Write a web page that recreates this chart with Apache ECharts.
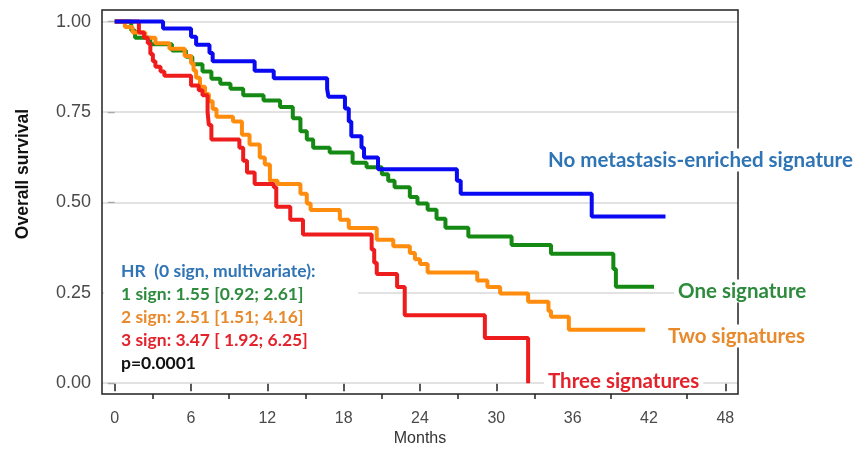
<!doctype html>
<html>
<head>
<meta charset="utf-8">
<title>Overall survival</title>
<script src="https://cdn.jsdelivr.net/npm/echarts@6/dist/echarts.min.js"></script>
<style>
  html, body { margin: 0; padding: 0; background: #fff; }
  #main { width: 861px; height: 452px; }
</style>
</head>
<body>
<div id="main"></div>
<script type="text/javascript">
// Kaplan-Meier curves: [month, survival]
var noSignature = [[0,1],[3.8,0.981],[6.0,0.958],[6.4,0.936],[7.45,0.913],[7.7,0.890],[11.0,0.864],[12.5,0.843],
  [16.7,0.814],[16.8,0.792],[18.1,0.760],[18.4,0.724],[18.6,0.683],[19.4,0.651],[19.6,0.624],[20.7,0.592],
  [26.9,0.560],[27.2,0.524],[37.5,0.461],[43.3,0.461]];
var oneSignature = [[0,1],[1.3,0.975],[1.6,0.955],[2.8,0.937],[4.5,0.92],[5.6,0.903],[6.1,0.882],[6.9,0.862],
  [7.6,0.842],[8.3,0.828],[9.1,0.814],[10.1,0.796],[11.7,0.782],[13.0,0.764],[14.0,0.733],[14.6,0.697],
  [15.1,0.674],[15.6,0.651],[16.9,0.638],[18.7,0.610],[19.8,0.597],[21.0,0.578],[21.5,0.560],[22.0,0.542],
  [23.2,0.515],[23.8,0.497],[24.6,0.48],[25.3,0.455],[26.0,0.430],[27.8,0.406],[31.2,0.382],[34.3,0.358],
  [39.2,0.316],[39.4,0.267],[42.4,0.267]];
var twoSignatures = [[0,1],[0.8,0.985],[1.4,0.97],[2.4,0.955],[3.2,0.94],[4.3,0.925],[5.5,0.905],[6.0,0.885],
  [6.2,0.865],[6.4,0.845],[6.7,0.82],[7.1,0.80],[7.4,0.78],[7.7,0.758],[8.0,0.737],[9.3,0.724],[10.0,0.687],
  [10.6,0.66],[11.4,0.624],[11.8,0.605],[12.2,0.56],[12.8,0.551],[14.6,0.524],[15.1,0.497],[15.4,0.479],
  [17.7,0.452],[18.4,0.429],[20.6,0.397],[21.9,0.379],[23.2,0.36],[23.6,0.343],[24.0,0.33],[24.6,0.306],
  [28.5,0.284],[29.3,0.266],[30.3,0.248],[32.5,0.225],[34.1,0.20],[34.3,0.184],[35.7,0.148],[41.7,0.148]];
var threeSignatures = [[0,1],[1.9,0.97],[2.3,0.955],[2.6,0.94],[2.8,0.91],[3.0,0.89],[3.2,0.875],[3.6,0.862],
  [3.9,0.85],[6.0,0.823],[6.6,0.81],[6.9,0.796],[7.3,0.75],[7.4,0.714],[7.6,0.674],[9.8,0.651],[10.1,0.615],
  [10.4,0.583],[11.0,0.551],[12.5,0.542],[12.7,0.488],[13.8,0.452],[14.8,0.411],[20.2,0.37],[20.4,0.333],
  [20.6,0.302],[22.2,0.266],[22.8,0.188],[29.1,0.125],[32.5,0.0]];

var monthTicks = [0, 6, 12, 18, 24, 30, 36, 42, 48];
var monthMinorTicks = [3, 9, 15, 21, 27, 33, 39, 45];
var survivalTicks = [0, 0.25, 0.5, 0.75, 1];

var hrLines = [
  ['HR  (0 sign, multivariate):', '#2f74b5'],
  ['1 sign: 1.55 [0.92; 2.61]', '#2e8b3e'],
  ['2 sign: 2.51 [1.51; 4.16]', '#e8892c'],
  ['3 sign: 3.47 [ 1.92; 6.25]', '#e4222b'],
  ['p=0.0001', '#111111']
];

var myChart = echarts.init(document.getElementById('main'));

function kmSeries(name, data, color) {
  return {
    name: name,
    type: 'line',
    step: 'end',
    data: data,
    showSymbol: false,
    symbol: 'none',
    z: 5,
    lineStyle: { color: color, width: 4 }
  };
}

var graphics = [
  { type: 'text', x: 23, y: 174, rotation: Math.PI / 2, z: 100,
    style: { text: 'Overall survival', font: 'bold 17.5px "Liberation Sans", Arial', fill: '#111', textAlign: 'center', textVerticalAlign: 'middle' } }
];
// white box behind the HR legend
graphics.push({ type: 'rect', shape: { x: 104, y: 258, width: 254, height: 116 }, style: { fill: '#fff' }, z: 50 });
hrLines.forEach(function (l, i) {
  graphics.push({ type: 'text', x: 121, y: 271 + i * 23, z: 100,
    style: { text: l[0], fill: l[1], font: 'bold 17.5px Lato', textVerticalAlign: 'middle' } });
});
var curveLabels = [
  ['No metastasis-enriched signature', '#2f74b5', 548, 160],
  ['One signature', '#2e8b3e', 678, 291],
  ['Two signatures', '#e8892c', 668, 336],
  ['Three signatures', '#e4222b', 548, 381]
];
curveLabels.forEach(function (l) {
  graphics.push({ type: 'text', x: l[2] - 4, y: l[3], z: 100,
    style: { text: l[0], fill: l[1], font: 'bold 20.5px Lato', textVerticalAlign: 'middle',
      backgroundColor: '#fff', padding: [1, 4] } });
});

var option = {
  animation: false,
  backgroundColor: '#fff',
  grid: { left: 102, right: 123, top: 10, bottom: 52, show: true, borderColor: '#222', borderWidth: 1.5, backgroundColor: 'transparent', z: 60 },
  xAxis: [{
    type: 'value', min: -1, max: 49, position: 'bottom',
    name: 'Months', nameLocation: 'middle', nameGap: 34,
    nameTextStyle: { fontSize: 16, color: '#333', fontFamily: 'Liberation Sans' },
    axisLine: { show: false },
    axisTick: { show: true, length: 8, customValues: monthTicks, lineStyle: { color: '#222', width: 1.5 } },
    axisLabel: { customValues: monthTicks, margin: 16, fontSize: 16, color: '#4a4a4a', fontFamily: 'Liberation Sans' },
    splitLine: { show: false }
  }, {
    type: 'value', min: -1, max: 49, position: 'bottom',
    axisLine: { show: false },
    axisTick: { show: true, length: 5, customValues: monthMinorTicks, lineStyle: { color: '#222', width: 1.5 } },
    axisLabel: { show: false },
    splitLine: { show: false }
  }],
  yAxis: {
    type: 'value', min: -0.03, max: 1.032,
    axisLine: { show: false },
    axisTick: { show: true, length: 7, customValues: survivalTicks, lineStyle: { color: '#222', width: 1.2 } },
    axisLabel: { customValues: survivalTicks, margin: 11, fontSize: 18, color: '#4a4a4a', fontFamily: 'Liberation Sans',
      formatter: function (v) { return v.toFixed(2); } },
    splitLine: { show: false }
  },
  graphic: graphics,
  series: [
    {
      type: 'line', data: [[0, 1]], showSymbol: false, symbol: 'none', z: 1,
      lineStyle: { opacity: 0 },
      markLine: {
        silent: true, symbol: 'none', label: { show: false }, animation: false,
        lineStyle: { color: '#d9d9d9', width: 1.5, type: 'solid' },
        data: survivalTicks.map(function (v) { return { yAxis: v }; })
      }
    },
    kmSeries('One signature', oneSignature, '#148a14'),
    kmSeries('Two signatures', twoSignatures, '#ff8c0c'),
    kmSeries('Three signatures', threeSignatures, '#ee1c1c'),
    kmSeries('No metastasis-enriched signature', noSignature, '#0a0af2')
  ]
};

myChart.setOption(option);
</script>
</body>
</html>
